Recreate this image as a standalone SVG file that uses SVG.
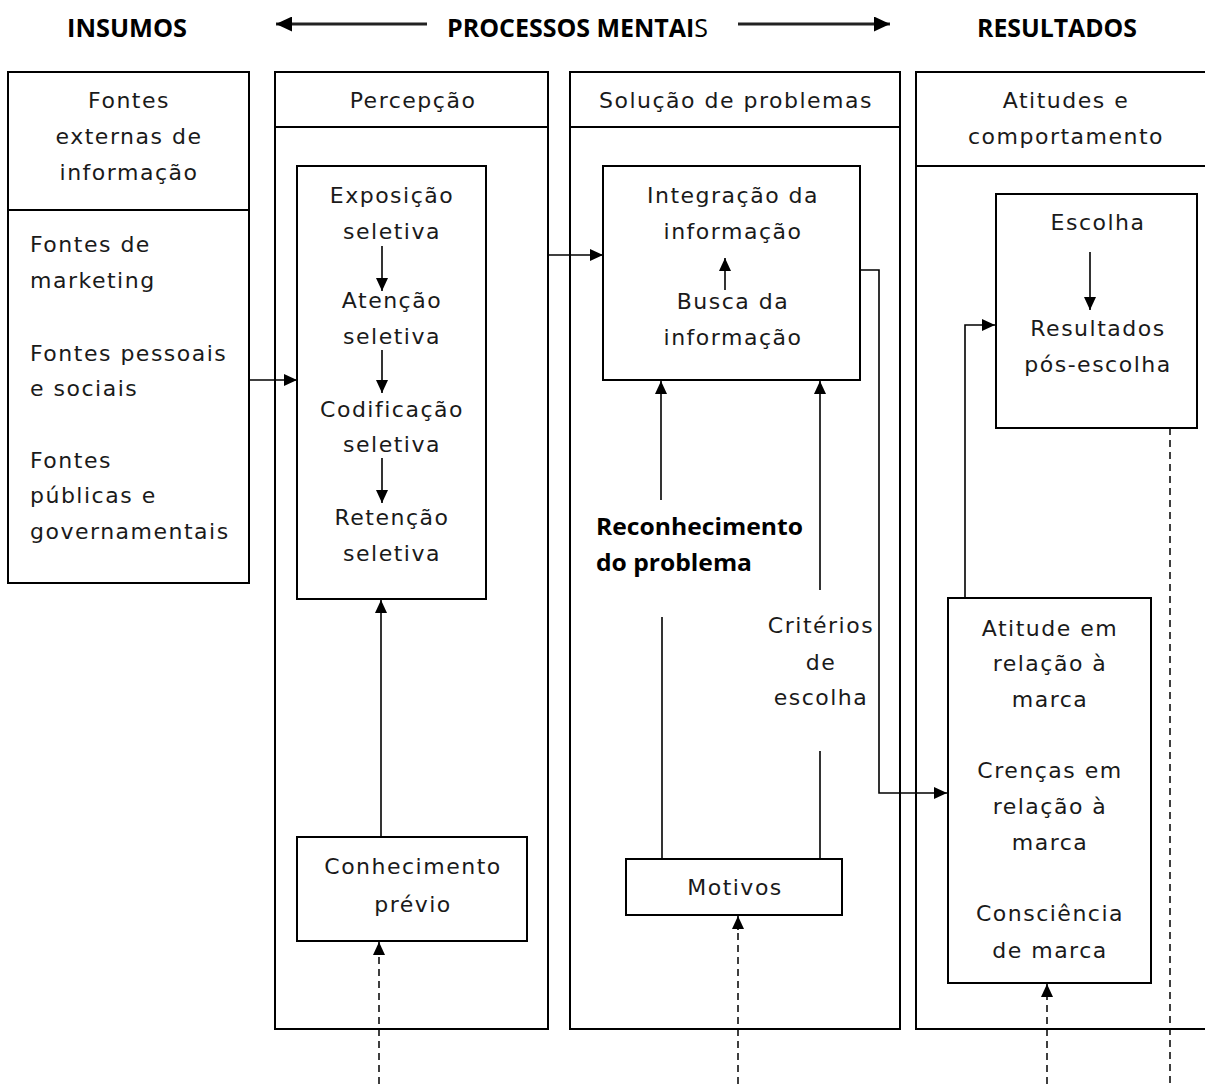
<svg xmlns="http://www.w3.org/2000/svg" width="1205" height="1084" viewBox="0 0 1205 1084">
<defs>
<marker id="ah" markerUnits="userSpaceOnUse" markerWidth="13" markerHeight="12" refX="13" refY="6" orient="auto">
<path d="M0,0 L13,6 L0,12 z" fill="#000"/>
</marker>
<marker id="ahb" markerUnits="userSpaceOnUse" markerWidth="16" markerHeight="15" refX="16" refY="7.5" orient="auto">
<path d="M0,0 L16,7.5 L0,15 z" fill="#000"/>
</marker>
<style>
.box{fill:#fff;stroke:#000;stroke-width:2}
.div{stroke:#000;stroke-width:2}
.t{font-family:"DejaVu Sans",sans-serif;font-size:22px;letter-spacing:1.5px;fill:#1a1a1a}
.c{text-anchor:middle}
.h{font-family:"Open Sans","Liberation Sans",sans-serif;font-size:25px;font-weight:bold;fill:#000}
.b{font-family:"Open Sans","Liberation Sans",sans-serif;font-size:23px;font-weight:bold;fill:#000}
.ln{fill:none;stroke:#000;stroke-width:1.6}
.ar{fill:none;stroke:#000;stroke-width:1.6;marker-end:url(#ah)}
.ha{fill:none;stroke:#222;stroke-width:3;marker-end:url(#ahb)}
.da{fill:none;stroke:#000;stroke-width:1.5;stroke-dasharray:7,5}
</style>
</defs>
<rect width="1205" height="1084" fill="#fff"/>

<g id="header">
<text class="h" x="67" y="37" textLength="120" lengthAdjust="spacingAndGlyphs">INSUMOS</text>
<text class="h" x="447" y="37" textLength="261" lengthAdjust="spacingAndGlyphs">PROCESSOS MENTAI<tspan font-weight="normal">S</tspan></text>
<text class="h" x="977" y="37" textLength="160" lengthAdjust="spacingAndGlyphs">RESULTADOS</text>
</g>

<g id="col-insumos">
<rect class="box" x="8" y="72" width="241" height="511"/>
<line class="div" x1="8" y1="210" x2="249" y2="210"/>
<text class="t c" x="129" y="108">Fontes</text>
<text class="t c" x="129" y="144">externas de</text>
<text class="t c" x="129" y="180">informação</text>
<text class="t" x="30" y="252">Fontes de</text>
<text class="t" x="30" y="288">marketing</text>
<text class="t" x="30" y="361">Fontes pessoais</text>
<text class="t" x="30" y="396">e sociais</text>
<text class="t" x="30" y="468">Fontes</text>
<text class="t" x="30" y="503">públicas e</text>
<text class="t" x="30" y="539">governamentais</text>
</g>

<g id="col-percepcao">
<rect class="box" x="275" y="72" width="273" height="957"/>
<line class="div" x1="275" y1="127" x2="548" y2="127"/>
<text class="t c" x="413" y="108">Percepção</text>
</g>

<g id="col-solucao">
<rect class="box" x="570" y="72" width="330" height="957"/>
<line class="div" x1="570" y1="127" x2="900" y2="127"/>
<text class="t c" x="736" y="108">Solução de problemas</text>
</g>

<g id="col-resultados">
<path class="box" d="M1210,72 H916 V1029 H1210"/>
<line class="div" x1="916" y1="166" x2="1205" y2="166"/>
<text class="t c" x="1066" y="108">Atitudes e</text>
<text class="t c" x="1066" y="144">comportamento</text>
</g>

<g id="percepcao-etapas">
<rect class="box" x="297" y="166" width="189" height="433"/>
<text class="t c" x="392" y="203">Exposição</text>
<text class="t c" x="392" y="239">seletiva</text>
<text class="t c" x="392" y="308">Atenção</text>
<text class="t c" x="392" y="344">seletiva</text>
<text class="t c" x="392" y="417">Codificação</text>
<text class="t c" x="392" y="452">seletiva</text>
<text class="t c" x="392" y="525">Retenção</text>
<text class="t c" x="392" y="561">seletiva</text>
</g>

<g id="conhecimento">
<rect class="box" x="297" y="837" width="230" height="104"/>
<text class="t c" x="413" y="874">Conhecimento</text>
<text class="t c" x="413" y="912">prévio</text>
</g>

<g id="integracao">
<rect class="box" x="603" y="166" width="257" height="214"/>
<text class="t c" x="733" y="203">Integração da</text>
<text class="t c" x="733" y="239">informação</text>
<text class="t c" x="733" y="309">Busca da</text>
<text class="t c" x="733" y="345">informação</text>
</g>

<g id="reconhecimento">
<text class="b" x="596" y="535" textLength="207" lengthAdjust="spacingAndGlyphs">Reconhecimento</text>
<text class="b" x="596" y="571" textLength="156" lengthAdjust="spacingAndGlyphs">do problema</text>
</g>

<g id="criterios">
<text class="t c" x="821" y="633">Critérios</text>
<text class="t c" x="821" y="670">de</text>
<text class="t c" x="821" y="705">escolha</text>
</g>

<g id="motivos">
<rect class="box" x="626" y="859" width="216" height="56"/>
<text class="t c" x="735" y="895">Motivos</text>
</g>

<g id="escolha">
<rect class="box" x="996" y="194" width="201" height="234"/>
<text class="t c" x="1098" y="230">Escolha</text>
<text class="t c" x="1098" y="336">Resultados</text>
<text class="t c" x="1098" y="372">pós-escolha</text>
</g>

<g id="atitude">
<rect class="box" x="948" y="598" width="203" height="385"/>
<text class="t c" x="1050" y="636">Atitude em</text>
<text class="t c" x="1050" y="671">relação à</text>
<text class="t c" x="1050" y="707">marca</text>
<text class="t c" x="1050" y="778">Crenças em</text>
<text class="t c" x="1050" y="814">relação à</text>
<text class="t c" x="1050" y="850">marca</text>
<text class="t c" x="1050" y="921">Consciência</text>
<text class="t c" x="1050" y="958">de marca</text>
</g>

<g id="connectors">
<line class="ha" x1="427" y1="24" x2="276" y2="24"/>
<line class="ha" x1="738" y1="24" x2="890" y2="24"/>
<line class="ar" x1="249" y1="380" x2="297" y2="380"/>
<line class="ar" x1="382" y1="246" x2="382" y2="291"/>
<line class="ar" x1="382" y1="350" x2="382" y2="393"/>
<line class="ar" x1="382" y1="458" x2="382" y2="503"/>
<line class="ar" x1="381" y1="837" x2="381" y2="600"/>
<line class="da" x1="379" y1="1084" x2="379" y2="955"/>
<line class="ar" x1="379" y1="955" x2="379" y2="942"/>
<line class="ar" x1="548" y1="255" x2="603" y2="255"/>
<line class="ar" x1="725" y1="290" x2="725" y2="258"/>
<line class="ar" x1="661" y1="500" x2="661" y2="381"/>
<line class="ln" x1="662" y1="617" x2="662" y2="859"/>
<line class="ar" x1="820" y1="590" x2="820" y2="381"/>
<line class="ln" x1="820" y1="751" x2="820" y2="859"/>
<line class="da" x1="738" y1="1084" x2="738" y2="930"/>
<line class="ar" x1="738" y1="930" x2="738" y2="916"/>
<path class="ar" d="M860,270 H879 V793 H947"/>
<line class="ar" x1="1090" y1="252" x2="1090" y2="310"/>
<path class="ar" d="M965,598 V325 H995"/>
<line class="da" x1="1047" y1="1084" x2="1047" y2="997"/>
<line class="ar" x1="1047" y1="997" x2="1047" y2="984"/>
<line class="da" x1="1170" y1="428" x2="1170" y2="1084"/>
</g>
</svg>
